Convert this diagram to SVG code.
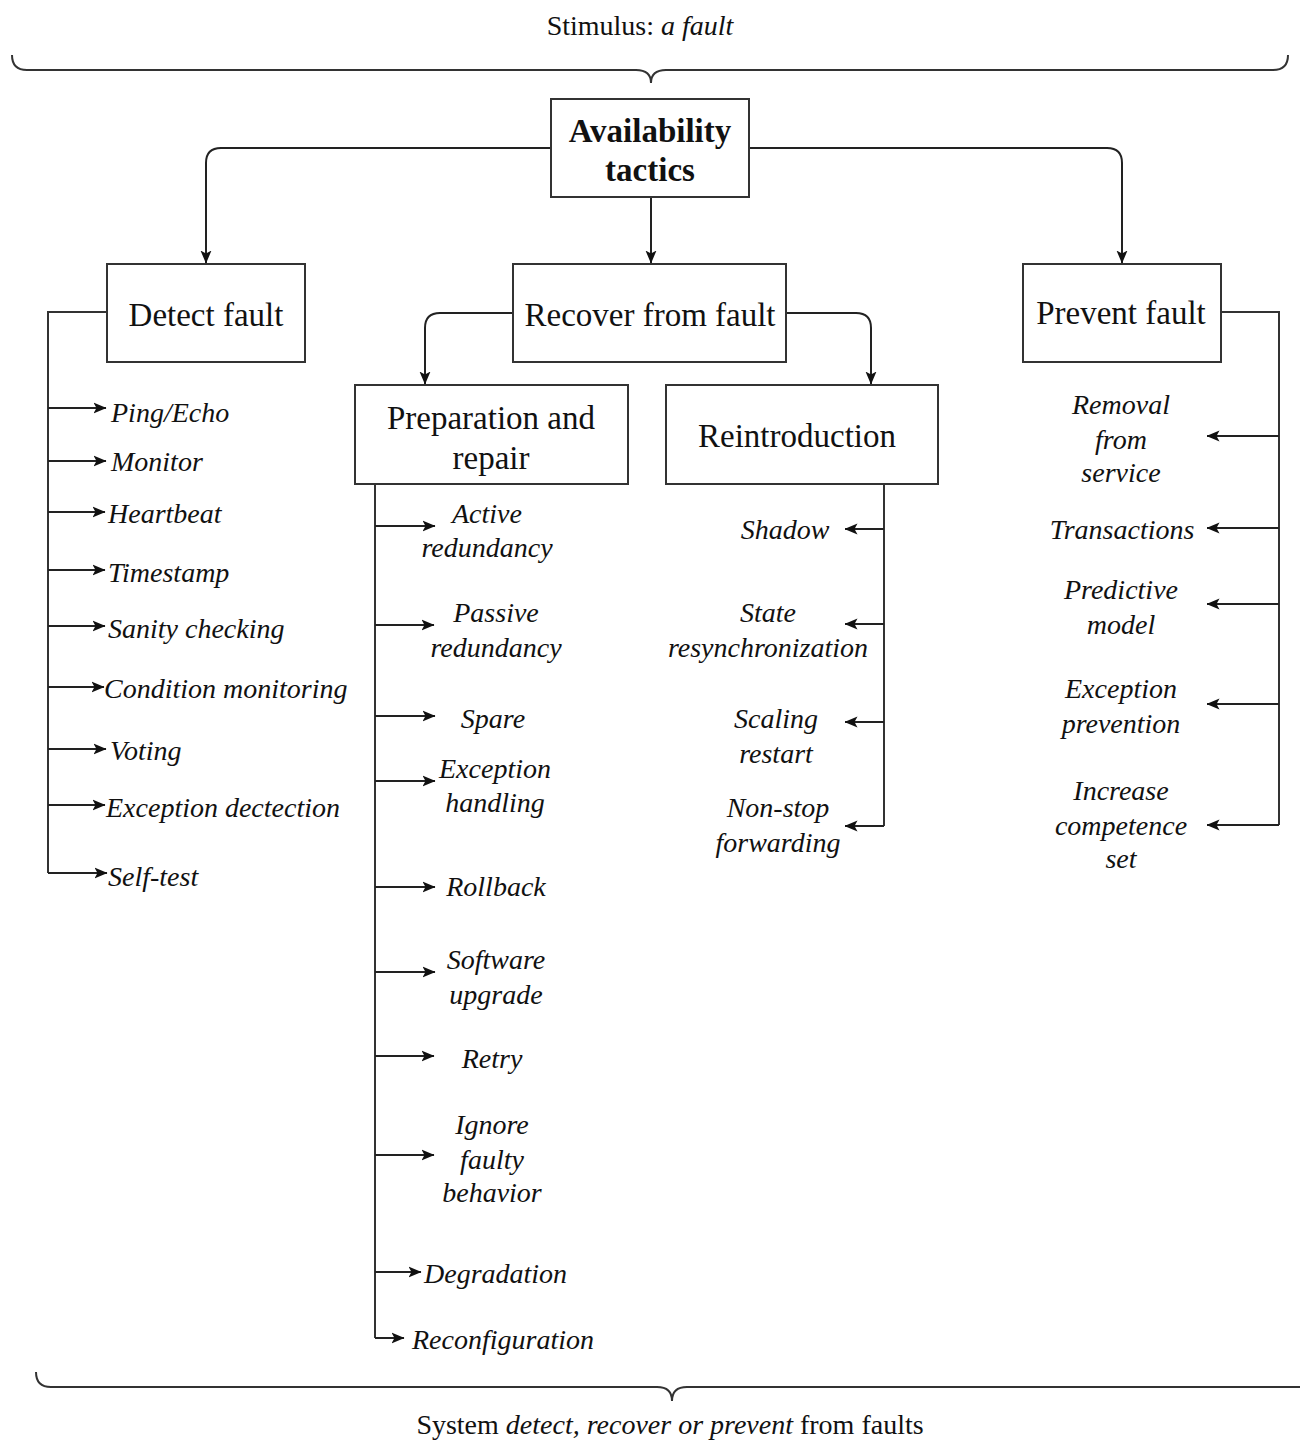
<svg xmlns="http://www.w3.org/2000/svg" width="1300" height="1440" viewBox="0 0 1300 1440">
  <defs>
    <marker id="arr" viewBox="0 0 13 12" refX="12.5" refY="6" markerWidth="13" markerHeight="12" markerUnits="userSpaceOnUse" orient="auto">
      <path d="M0,0.5 L13,6 L0,11.5 L3,6 Z" fill="#111"/>
    </marker>
    <style>
      .box { fill: #fff; stroke: #333; stroke-width: 2; }
      .ln { fill: none; stroke: #333; stroke-width: 2; }
      .ar { fill: none; stroke: #222; stroke-width: 2; marker-end: url(#arr); }
      .t { font-family: "Liberation Serif", "Times New Roman", serif; fill: #111; }
      .head { font-size: 33px; text-anchor: middle; }
      .bold { font-weight: bold; }
      .it { font-size: 28px; font-style: italic; }
      .mid { text-anchor: middle; }
      .cap { font-size: 28px; text-anchor: middle; }
    </style>
  </defs>

  <rect width="1300" height="1440" fill="#fff"/>

  <!-- braces -->
  <g id="braces">
    <path class="ln" d="M12,55 Q12,70 27,70 L636,70 Q651,70 651,83 Q651,70 666,70 L1273,70 Q1288,70 1288,55"/>
    <path class="ln" d="M36,1372 Q36,1387 51,1387 L657,1387 Q672,1387 672,1401 Q672,1387 687,1387 L1300,1387"/>
    <text class="t cap" x="640" y="35">Stimulus: <tspan font-style="italic">a fault</tspan></text>
    <text class="t cap" x="670" y="1434">System <tspan font-style="italic">detect, recover or prevent</tspan> from faults</text>
  </g>

  <!-- connectors -->
  <g id="connectors">
    <path class="ar" d="M551,148 L221,148 Q206,148 206,163 L206,263"/>
    <path class="ar" d="M749,148 L1107,148 Q1122,148 1122,163 L1122,263"/>
    <path class="ar" d="M651,197 L651,263"/>
    <path class="ar" d="M513,313 L440,313 Q425,313 425,328 L425,384"/>
    <path class="ar" d="M786,313 L856,313 Q871,313 871,328 L871,384"/>

    <!-- detect fault branches -->
    <path class="ln" d="M107,312 L48,312 L48,873"/>
    <path class="ar" d="M48,408 L106,408"/>
    <path class="ar" d="M48,461 L106,461"/>
    <path class="ar" d="M48,512 L105,512"/>
    <path class="ar" d="M48,570 L105,570"/>
    <path class="ar" d="M48,626 L105,626"/>
    <path class="ar" d="M48,687 L104,687"/>
    <path class="ar" d="M48,749 L106,749"/>
    <path class="ar" d="M48,805 L105,805"/>
    <path class="ar" d="M48,873 L107,873"/>

    <!-- preparation and repair branches -->
    <path class="ln" d="M375,484 L375,1338"/>
    <path class="ar" d="M375,526 L435,526"/>
    <path class="ar" d="M375,625 L434,625"/>
    <path class="ar" d="M375,716 L435,716"/>
    <path class="ar" d="M375,781 L435,781"/>
    <path class="ar" d="M375,887 L435,887"/>
    <path class="ar" d="M375,972 L435,972"/>
    <path class="ar" d="M375,1056 L434,1056"/>
    <path class="ar" d="M375,1155 L434,1155"/>
    <path class="ar" d="M375,1272 L421,1272"/>
    <path class="ar" d="M375,1338 L404,1338"/>

    <!-- reintroduction branches -->
    <path class="ln" d="M884,484 L884,826"/>
    <path class="ar" d="M884,529 L845,529"/>
    <path class="ar" d="M884,624 L845,624"/>
    <path class="ar" d="M884,722 L845,722"/>
    <path class="ar" d="M884,826 L845,826"/>

    <!-- prevent fault branches -->
    <path class="ln" d="M1221,312 L1279,312 L1279,825"/>
    <path class="ar" d="M1279,436 L1207,436"/>
    <path class="ar" d="M1279,528 L1207,528"/>
    <path class="ar" d="M1279,604 L1207,604"/>
    <path class="ar" d="M1279,704 L1207,704"/>
    <path class="ar" d="M1279,825 L1207,825"/>
  </g>

  <!-- nodes -->
  <g id="availability-tactics">
    <rect class="box" x="551" y="99" width="198" height="98"/>
    <text class="t head bold" x="650" y="142">Availability</text>
    <text class="t head bold" x="650" y="181">tactics</text>
  </g>
  <g id="detect-fault">
    <rect class="box" x="107" y="264" width="198" height="98"/>
    <text class="t head" x="206" y="326">Detect fault</text>
  </g>
  <g id="recover-from-fault">
    <rect class="box" x="513" y="264" width="273" height="98"/>
    <text class="t head" x="650" y="326">Recover from fault</text>
  </g>
  <g id="prevent-fault">
    <rect class="box" x="1023" y="264" width="198" height="98"/>
    <text class="t head" x="1121" y="324">Prevent fault</text>
  </g>
  <g id="preparation-and-repair">
    <rect class="box" x="355" y="385" width="273" height="99"/>
    <text class="t head" x="491" y="429">Preparation and</text>
    <text class="t head" x="491" y="469">repair</text>
  </g>
  <g id="reintroduction">
    <rect class="box" x="666" y="385" width="272" height="99"/>
    <text class="t head" x="797" y="447">Reintroduction</text>
  </g>

  <!-- detect fault tactics -->
  <g id="detect-tactics">
    <text class="t it" x="111" y="422">Ping/Echo</text>
    <text class="t it" x="111" y="471">Monitor</text>
    <text class="t it" x="108" y="523">Heartbeat</text>
    <text class="t it" x="108" y="582">Timestamp</text>
    <text class="t it" x="108" y="638">Sanity checking</text>
    <text class="t it" x="104" y="698">Condition monitoring</text>
    <text class="t it" x="110" y="760">Voting</text>
    <text class="t it" x="106" y="817">Exception dectection</text>
    <text class="t it" x="108" y="886">Self-test</text>
  </g>

  <!-- preparation and repair tactics -->
  <g id="repair-tactics">
    <text class="t it mid" x="487" y="523">Active</text>
    <text class="t it mid" x="487" y="557">redundancy</text>
    <text class="t it mid" x="496" y="622">Passive</text>
    <text class="t it mid" x="496" y="657">redundancy</text>
    <text class="t it mid" x="493" y="728">Spare</text>
    <text class="t it mid" x="495" y="778">Exception</text>
    <text class="t it mid" x="495" y="812">handling</text>
    <text class="t it mid" x="496" y="896">Rollback</text>
    <text class="t it mid" x="496" y="969">Software</text>
    <text class="t it mid" x="496" y="1004">upgrade</text>
    <text class="t it mid" x="492" y="1068">Retry</text>
    <text class="t it mid" x="492" y="1134">Ignore</text>
    <text class="t it mid" x="492" y="1169">faulty</text>
    <text class="t it mid" x="492" y="1202">behavior</text>
    <text class="t it" x="424" y="1283">Degradation</text>
    <text class="t it" x="412" y="1349">Reconfiguration</text>
  </g>

  <!-- reintroduction tactics -->
  <g id="reintroduction-tactics">
    <text class="t it mid" x="785" y="539">Shadow</text>
    <text class="t it mid" x="768" y="622">State</text>
    <text class="t it mid" x="768" y="657">resynchronization</text>
    <text class="t it mid" x="776" y="728">Scaling</text>
    <text class="t it mid" x="776" y="763">restart</text>
    <text class="t it mid" x="778" y="817">Non-stop</text>
    <text class="t it mid" x="778" y="852">forwarding</text>
  </g>

  <!-- prevent fault tactics -->
  <g id="prevent-tactics">
    <text class="t it mid" x="1121" y="414">Removal</text>
    <text class="t it mid" x="1121" y="449">from</text>
    <text class="t it mid" x="1121" y="482">service</text>
    <text class="t it mid" x="1122" y="539">Transactions</text>
    <text class="t it mid" x="1121" y="599">Predictive</text>
    <text class="t it mid" x="1121" y="634">model</text>
    <text class="t it mid" x="1121" y="698">Exception</text>
    <text class="t it mid" x="1121" y="733">prevention</text>
    <text class="t it mid" x="1121" y="800">Increase</text>
    <text class="t it mid" x="1121" y="835">competence</text>
    <text class="t it mid" x="1121" y="868">set</text>
  </g>
</svg>
